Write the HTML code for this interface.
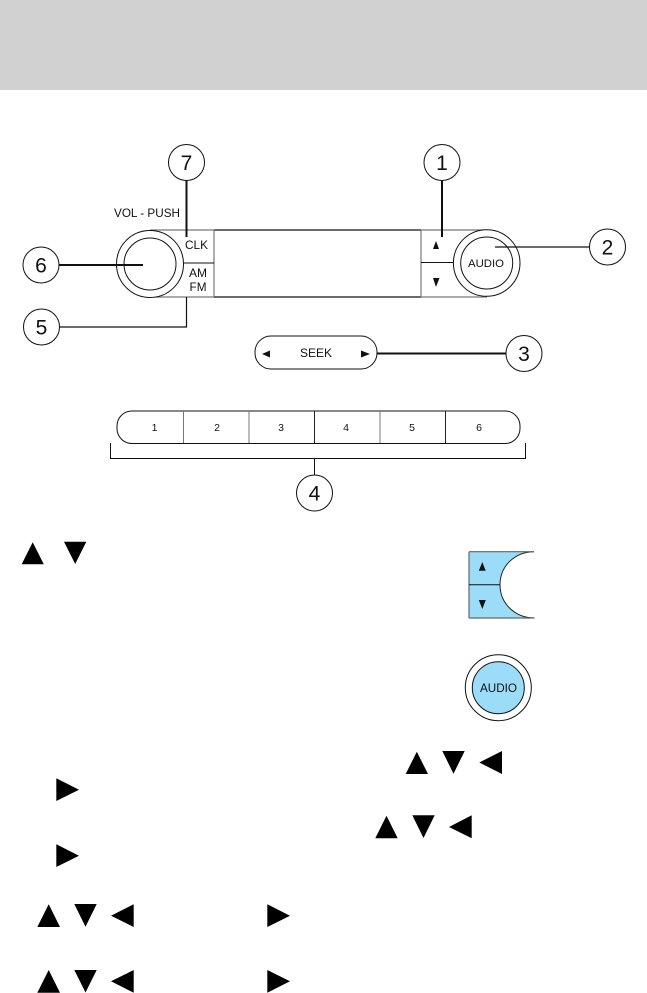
<!DOCTYPE html>
<html><head><meta charset="utf-8"><style>
html,body{margin:0;padding:0;background:#fff;width:647px;height:993px;overflow:hidden}
svg{display:block}
text{font-family:"Liberation Sans",sans-serif;fill:#111}
.n{font-size:21px;text-anchor:middle}
.b{font-size:10.5px;text-anchor:middle}
</style></head><body>
<svg width="647" height="993" viewBox="0 0 647 993" xmlns="http://www.w3.org/2000/svg">
<rect x="0" y="0" width="647" height="90" fill="#d1d1d1"/>

<!-- main panel -->
<g fill="none" stroke="#111" stroke-width="1">
<path d="M214 230H421M214 297H421" stroke-width="1.2"/>
<path d="M150 230H214M150 297H214M214 230V297M421 230V297M421 230H487M421 297H487" stroke="#777" stroke-width="1.2"/>
<path d="M183 263H214M421 262.5H454" stroke-width="1.1"/>
<circle cx="150" cy="264" r="33.5" fill="#fff"/>
<circle cx="150" cy="264" r="26"/>
<circle cx="486.7" cy="263" r="33.3" fill="#fff"/>
<circle cx="486.7" cy="263" r="26"/>
</g>
<text x="114" y="217" font-size="11.6" textLength="66" lengthAdjust="spacingAndGlyphs">VOL - PUSH</text>
<text x="185" y="249" font-size="11.6" textLength="23" lengthAdjust="spacingAndGlyphs">CLK</text>
<text x="189" y="277" font-size="11.6" textLength="18" lengthAdjust="spacingAndGlyphs">AM</text>
<text x="189.500" y="291" font-size="11.6" textLength="17" lengthAdjust="spacingAndGlyphs">FM</text>
<text x="468" y="267" font-size="11.400" textLength="36" lengthAdjust="spacingAndGlyphs">AUDIO</text>
<polygon points="436,241 439,249 433,249" fill="#111"/>
<polygon points="433,278 439.5,278 436,287" fill="#111"/>

<!-- seek -->
<rect x="255" y="336" width="122" height="33" rx="16" fill="#fff" stroke="#111" stroke-width="1"/>
<text x="300" y="357" font-size="11.6" textLength="32" lengthAdjust="spacingAndGlyphs">SEEK</text>
<polygon points="262,354 270,350.5 270,357.5" fill="#111"/>
<polygon points="361,350.5 370,354 361,357.5" fill="#111"/>

<!-- presets -->
<rect x="117" y="411" width="403" height="32.5" rx="15" fill="#fff" stroke="#111" stroke-width="1"/>
<path d="M183.5 411V443M249 411V443M380 411V443" stroke="#777" stroke-width="1"/>
<path d="M314.5 411V443M445.5 411V443" stroke="#222" stroke-width="1"/>
<text class="b" x="154.500" y="431">1</text>
<text class="b" x="217" y="431">2</text>
<text class="b" x="281" y="431">3</text>
<text class="b" x="346" y="431">4</text>
<text class="b" x="412" y="431">5</text>
<text class="b" x="479" y="431">6</text>
<path d="M110.500 443V458.500H525.500V443M314.500 458.500V475" fill="none" stroke="#111" stroke-width="1"/>

<!-- connectors -->
<g fill="none" stroke="#111">
<path d="M186.500 180V237" stroke-width="2"/>
<path d="M442 180V237" stroke-width="2"/>
<path d="M59 265H143" stroke-width="2"/>
<path d="M59 327H186.500V297" stroke-width="1.2"/>
<path d="M495 247H589" stroke-width="1.2"/>
<path d="M377 353.500H506" stroke-width="2"/>
</g>

<!-- callouts -->
<g fill="#fff" stroke="#111" stroke-width="1">
<circle cx="186.500" cy="162.500" r="18"/>
<circle cx="442" cy="162.500" r="18"/>
<circle cx="607.500" cy="247" r="18"/>
<circle cx="524" cy="353.500" r="18"/>
<circle cx="314.500" cy="493" r="18"/>
<circle cx="41" cy="265" r="18"/>
<circle cx="41.500" cy="327" r="18"/>
</g>
<text class="n" x="186.500" y="170">7</text>
<text class="n" x="442" y="170">1</text>
<text class="n" x="607.500" y="254.500">2</text>
<text class="n" x="524" y="361">3</text>
<text class="n" x="314.500" y="500.500">4</text>
<text class="n" x="41" y="272.500">6</text>
<text class="n" x="41.500" y="334.500">5</text>

<!-- blue seek key detail -->
<path d="M469 551.700H534C515 551.700 500 566 500 584.800C500 603.500 515 618 534.500 618H469Z" fill="#9bdcf8"/>
<path d="M534 551.700C515 551.700 500 566 500 584.800C500 603.500 515 618 534.500 618" fill="none" stroke="#222" stroke-width="1"/>
<path d="M469 551.700H534M469 618H534.500M469 551.700V618" fill="none" stroke="#666" stroke-width="1.200"/>
<path d="M469 584.800H500" stroke="#111" stroke-width="1"/>
<polygon points="482.300,562 485.700,570.700 478.800,570.700" fill="#111"/>
<polygon points="478.800,600 485.800,600 482.300,609" fill="#111"/>

<!-- blue audio detail -->
<circle cx="498.300" cy="687.700" r="33" fill="#fff" stroke="#111" stroke-width="1"/>
<circle cx="498.300" cy="687.700" r="26" fill="#9bdcf8" stroke="#111" stroke-width="1"/>
<text x="480" y="692" font-size="11.600" textLength="37" lengthAdjust="spacingAndGlyphs">AUDIO</text>

<!-- inline glyph triangles -->
<g fill="#000">
<polygon points="32.700,542.300 43.800,564.300 21.700,564.300"/>
<polygon points="64,541.700 86.300,541.700 75.200,564"/>

<polygon points="416.800,751.700 428,774 405.700,774"/>
<polygon points="442.300,751 464.700,751 453.500,773.700"/>
<polygon points="479.300,762.500 502,751 502,774"/>
<polygon points="56.300,778.300 79,789.700 56.300,801"/>

<polygon points="386.500,815.700 397.700,838.300 375.300,838.300"/>
<polygon points="412.300,815.300 434.700,815.300 423.500,838"/>
<polygon points="449,827 471.700,815.300 471.700,838.300"/>
<polygon points="56.300,844.300 79,855.700 56.300,867"/>

<polygon points="48.700,904.300 60,927 37.300,927"/>
<polygon points="74.300,904 96.700,904 85.500,926.700"/>
<polygon points="111,915.700 133.700,904.300 133.700,927"/>
<polygon points="267.300,904.300 290,915.700 267.300,927"/>

<polygon points="48.700,970 60,992.700 37.300,992.700"/>
<polygon points="74.300,970 96.700,970 85.500,992.500"/>
<polygon points="111,981.300 133.700,970 133.700,992.700"/>
<polygon points="267.300,970 290,981.300 267.300,992.700"/>
</g>
</svg>
</body></html>
